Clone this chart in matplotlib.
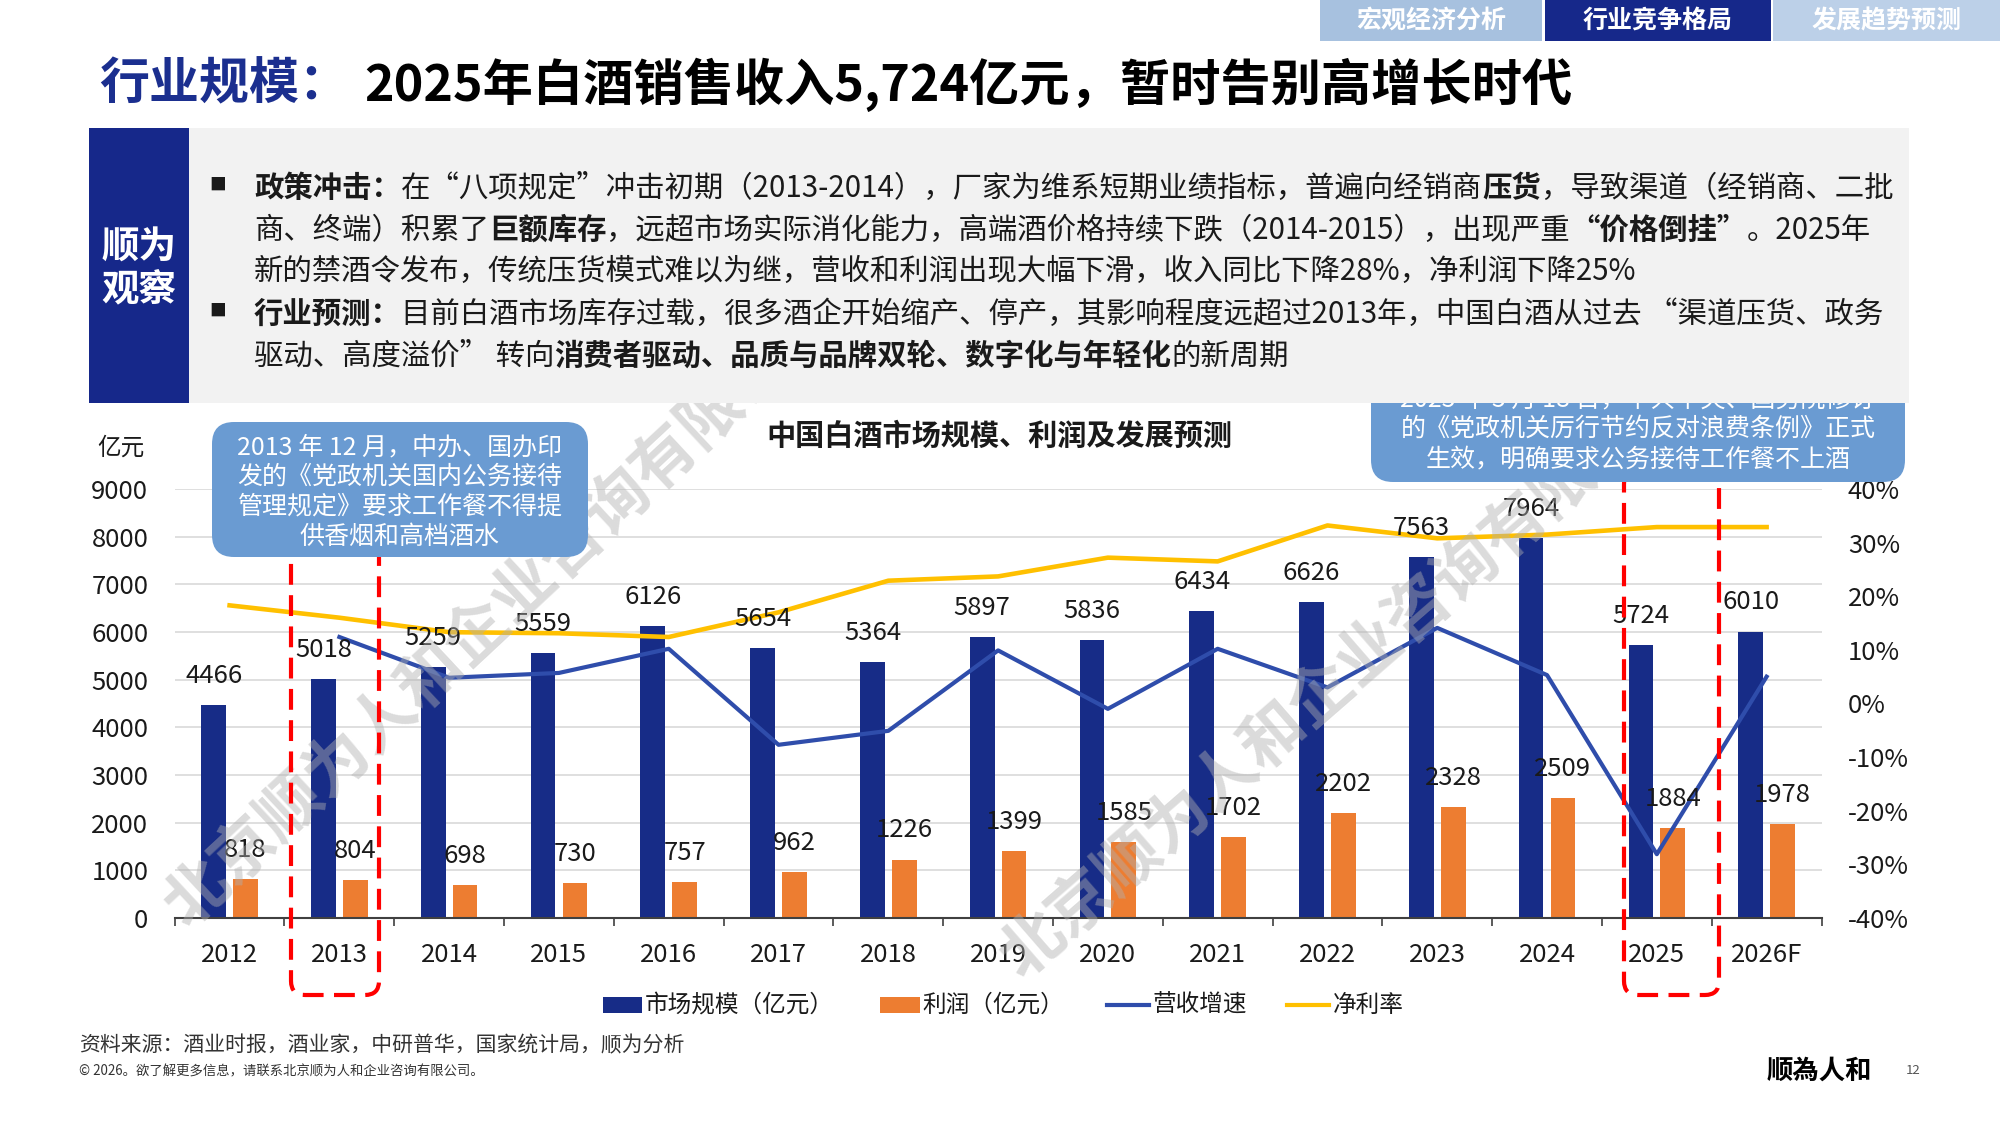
import matplotlib
matplotlib.use("Agg")
import matplotlib.pyplot as plt
from matplotlib.patches import Rectangle, FancyBboxPatch
from matplotlib.lines import Line2D
from matplotlib.transforms import Affine2D

plt.rcParams["font.family"] = ["Noto Sans CJK SC", "DejaVu Sans"]

# data
years = ["2012", "2013", "2014", "2015", "2016", "2017", "2018", "2019",
         "2020", "2021", "2022", "2023", "2024", "2025", "2026F"]
market = [4466, 5018, 5259, 5559, 6126, 5654, 5364, 5897,
          5836, 6434, 6626, 7563, 7964, 5724, 6010]
profit = [818, 804, 698, 730, 757, 962, 1226, 1399,
          1585, 1702, 2202, 2328, 2509, 1884, 1978]
# revenue growth (%), starts in 2013
growth = [12.4, 4.8, 5.7, 10.2, -7.7, -5.1, 9.9,
          -1.0, 10.2, 3.0, 14.1, 5.3, -28.1, 5.0]
# net margin (%)
margin = [18.3, 16.0, 13.3, 13.1, 12.4, 17.0, 22.9, 23.7,
          27.2, 26.5, 33.2, 30.8, 31.5, 32.9, 32.9]
left_ticks = [0, 1000, 2000, 3000, 4000, 5000, 6000, 7000, 8000, 9000]
right_ticks = [-40, -30, -20, -10, 0, 10, 20, 30, 40]

NAVY = "#172C87"
ORANGE = "#ED7D31"
BLUE = "#2F4DAB"
YELLOW = "#FFC000"
BOXBLUE = "#6A9BD2"
TXT = "#1a1a1a"

W, H = 2000, 1125
fig = plt.figure(figsize=(20, 11.25), dpi=100)
px = Affine2D().scale(1 / W, -1 / H).translate(0, 1) + fig.transFigure


def rect(x0, y0, x1, y1, color, z, r=0):
    if r:
        p = FancyBboxPatch((x0, y0), x1 - x0, y1 - y0,
                           boxstyle=f"round,pad=0,rounding_size={r}",
                           transform=px, facecolor=color, edgecolor="none", zorder=z)
    else:
        p = Rectangle((x0, y0), x1 - x0, y1 - y0, transform=px,
                      facecolor=color, edgecolor="none", zorder=z)
    fig.add_artist(p)


def text(x, y, s, size, **kw):
    kw.setdefault("color", TXT)
    kw.setdefault("zorder", 5)
    return fig.text(x, y, s, transform=px, fontsize=size, **kw)


def rich(x, y, segs, size, z=5):
    r = fig.canvas.get_renderer()
    for s, b in segs:
        t = text(x, y, s, size, fontweight="bold" if b else "normal",
                 ha="left", va="center_baseline", zorder=z)
        x += t.get_window_extent(r).width


# ---- chart ----
ax = fig.add_axes([174.7 / W, 1 - 918 / H, (1821.5 - 174.7) / W, (918 - 489) / H])
ax2 = ax.twinx()
x = list(range(len(years)))
bw = 0.225
ax.bar([i - 0.145 for i in x], market, bw, color=NAVY, zorder=2)
ax.bar([i + 0.145 for i in x], profit, bw, color=ORANGE, zorder=2)
ax.set_xlim(-0.5, 14.5)
ax.set_ylim(0, 9000)
ax.set_yticks(left_ticks)
ax.set_xticks(x, years)
ax.set_xticks([i - 0.5 for i in range(len(years) + 1)], minor=True)
ax.tick_params(axis="x", which="major", length=0, pad=17, labelsize=18.5, labelcolor=TXT)
ax.tick_params(axis="x", which="minor", length=6, width=1.2, color="#404040")
ax.tick_params(axis="y", length=0, pad=19, labelsize=18.5, labelcolor=TXT)
ax.grid(axis="y", color="#D9D9D9", lw=1.2)
ax.set_axisbelow(True)
for s in ["left", "right", "top"]:
    ax.spines[s].set_visible(False)
ax.spines["bottom"].set_color("#404040")
ax.spines["bottom"].set_linewidth(1.5)
ax.spines["bottom"].set_zorder(3)

ax2.plot(x[1:], growth, color=BLUE, lw=3, zorder=3)
ax2.plot(x, margin, color=YELLOW, lw=3.3, zorder=3)
ax2.set_ylim(-40, 40)
ax2.set_yticks(right_ticks, [f"{v}%" for v in right_ticks])
ax2.tick_params(axis="y", length=0, pad=19, labelsize=18.5, labelcolor=TXT)
for s in ax2.spines.values():
    s.set_visible(False)

for i in x:
    ax2.annotate(str(market[i]), (i - 0.145, market[i]), xycoords=ax.transData,
                 xytext=(0, 21), textcoords="offset points", ha="center", va="center",
                 fontsize=18.5, color=TXT, zorder=5)
    ax2.annotate(str(profit[i]), (i + 0.145, profit[i]), xycoords=ax.transData,
                 xytext=(0, 21), textcoords="offset points", ha="center", va="center",
                 fontsize=18.5, color=TXT, zorder=5)

text(999, 436, "中国白酒市场规模、利润及发展预测", 21, fontweight="bold",
     ha="center", va="center")
text(121, 448, "亿元", 17, ha="center", va="center")

# watermark
wm = "北京顺为人和企业咨询有限公司"
text(502, 611, wm, 46, fontweight="bold", color="#b0b0b0", alpha=0.45,
     rotation=43, ha="center", va="center", rotation_mode="anchor", zorder=1)
text(1347, 673, wm, 46, fontweight="bold", color="#b0b0b0", alpha=0.45,
     rotation=41, ha="center", va="center", rotation_mode="anchor", zorder=1)

# red dashed highlight frames
for x0, x1, y0 in [(291, 379, 520), (1624, 1719, 470)]:
    fig.add_artist(FancyBboxPatch((x0, y0), x1 - x0, 995 - y0,
                                  boxstyle="round,pad=0,rounding_size=14",
                                  transform=px, fill=False, edgecolor="#FF0000",
                                  lw=3, linestyle=(0, (5, 2.5)), zorder=2))

# annotation boxes
rect(212, 422, 588, 557, BOXBLUE, 3, r=22)
for k, s in enumerate(["2013 年 12 月，中办、国办印", "发的《党政机关国内公务接待",
                       "管理规定》要求工作餐不得提", "供香烟和高档酒水"]):
    text(400, 447 + 30 * k, s, 18, color="white", ha="center", va="center", zorder=3.5)
rect(1371, 360, 1905, 482, BOXBLUE, 3, r=22)
for k, s in enumerate(["2025 年 5 月 18 日，中共中央、国务院修订",
                       "的《党政机关厉行节约反对浪费条例》正式",
                       "生效，明确要求公务接待工作餐不上酒"]):
    text(1638, 399 + 30 * k, s, 18, color="white", ha="center", va="center", zorder=3.5)

# ---- header ----
tabs = [("宏观经济分析", 1320, 1542, "#A7C1DF"),
        ("行业竞争格局", 1545, 1771, "#16288A"),
        ("发展趋势预测", 1773, 2000, "#BCD0E8")]
for s, x0, x1, c in tabs:
    rect(x0, 0, x1, 41, c, 4)
    text((x0 + x1) / 2, 21, s, 18, fontweight="bold", color="white",
         ha="center", va="center")

text(99, 85, "行业规模：", 36, fontweight="bold", color="#1B2F8F", va="center")
text(364, 85, "2025年白酒销售收入5,724亿元，暂时告别高增长时代", 36.2,
     fontweight="bold", color="black", va="center")

# observation panel
rect(89, 128, 1909, 403, "#F2F2F2", 4)
rect(89, 128, 189, 403, "#16288A", 4.1)
text(139, 247, "顺为", 27, fontweight="bold", color="white", ha="center", va="center")
text(139, 289, "观察", 27, fontweight="bold", color="white", ha="center", va="center")

lines = [
    [("政策冲击：", True), ("在“八项规定”冲击初期（2013-2014），厂家为维系短期业绩指标，普遍向经销商", False),
     ("压货", True), ("，导致渠道（经销商、二批", False)],
    [("商、终端）积累了", False), ("巨额库存", True),
     ("，远超市场实际消化能力，高端酒价格持续下跌（2014-2015），出现严重", False),
     ("“价格倒挂”", True), ("。2025年", False)],
    [("新的禁酒令发布，传统压货模式难以为继，营收和利润出现大幅下滑，收入同比下降28%，净利润下降25%", False)],
    [("行业预测：", True), ("目前白酒市场库存过载，很多酒企开始缩产、停产，其影响程度远超过2013年，中国白酒从过去 “渠道压货、政务", False)],
    [("驱动、高度溢价” 转向", False), ("消费者驱动、品质与品牌双轮、数字化与年轻化", True), ("的新周期", False)],
]
for segs, y in zip(lines, [185, 227, 268, 311, 353]):
    rich(254, y, segs, 21.2)
for y in [185, 311]:
    text(218, y, "■", 12, ha="center", va="center")

# legend
rect(603, 997, 642, 1013, NAVY, 5)
text(645, 1005, "市场规模（亿元）", 17, va="center")
rect(880, 997, 920, 1013, ORANGE, 5)
text(922, 1005, "利润（亿元）", 17, va="center")
for x0, c, s in [(1107, BLUE, "营收增速"), (1287, YELLOW, "净利率")]:
    fig.add_artist(Line2D([x0, x0 + 42], [1005, 1005], transform=px, color=c, lw=3, zorder=5))
    text(x0 + 46, 1005, s, 17, va="center")

# footer
text(79, 1045, "资料来源：酒业时报，酒业家，中研普华，国家统计局，顺为分析", 15,
     color="#333333", va="center")
text(79, 1071, "© 2026。欲了解更多信息，请联系北京顺为人和企业咨询有限公司。", 9.6,
     color="#333333", va="center")
text(1819, 1071, "顺為人和", 19, fontweight="bold", color="black", ha="center", va="center")
text(1913, 1070, "12", 9.5, color="#555555", ha="center", va="center")

fig.savefig("out.png", dpi=100)
